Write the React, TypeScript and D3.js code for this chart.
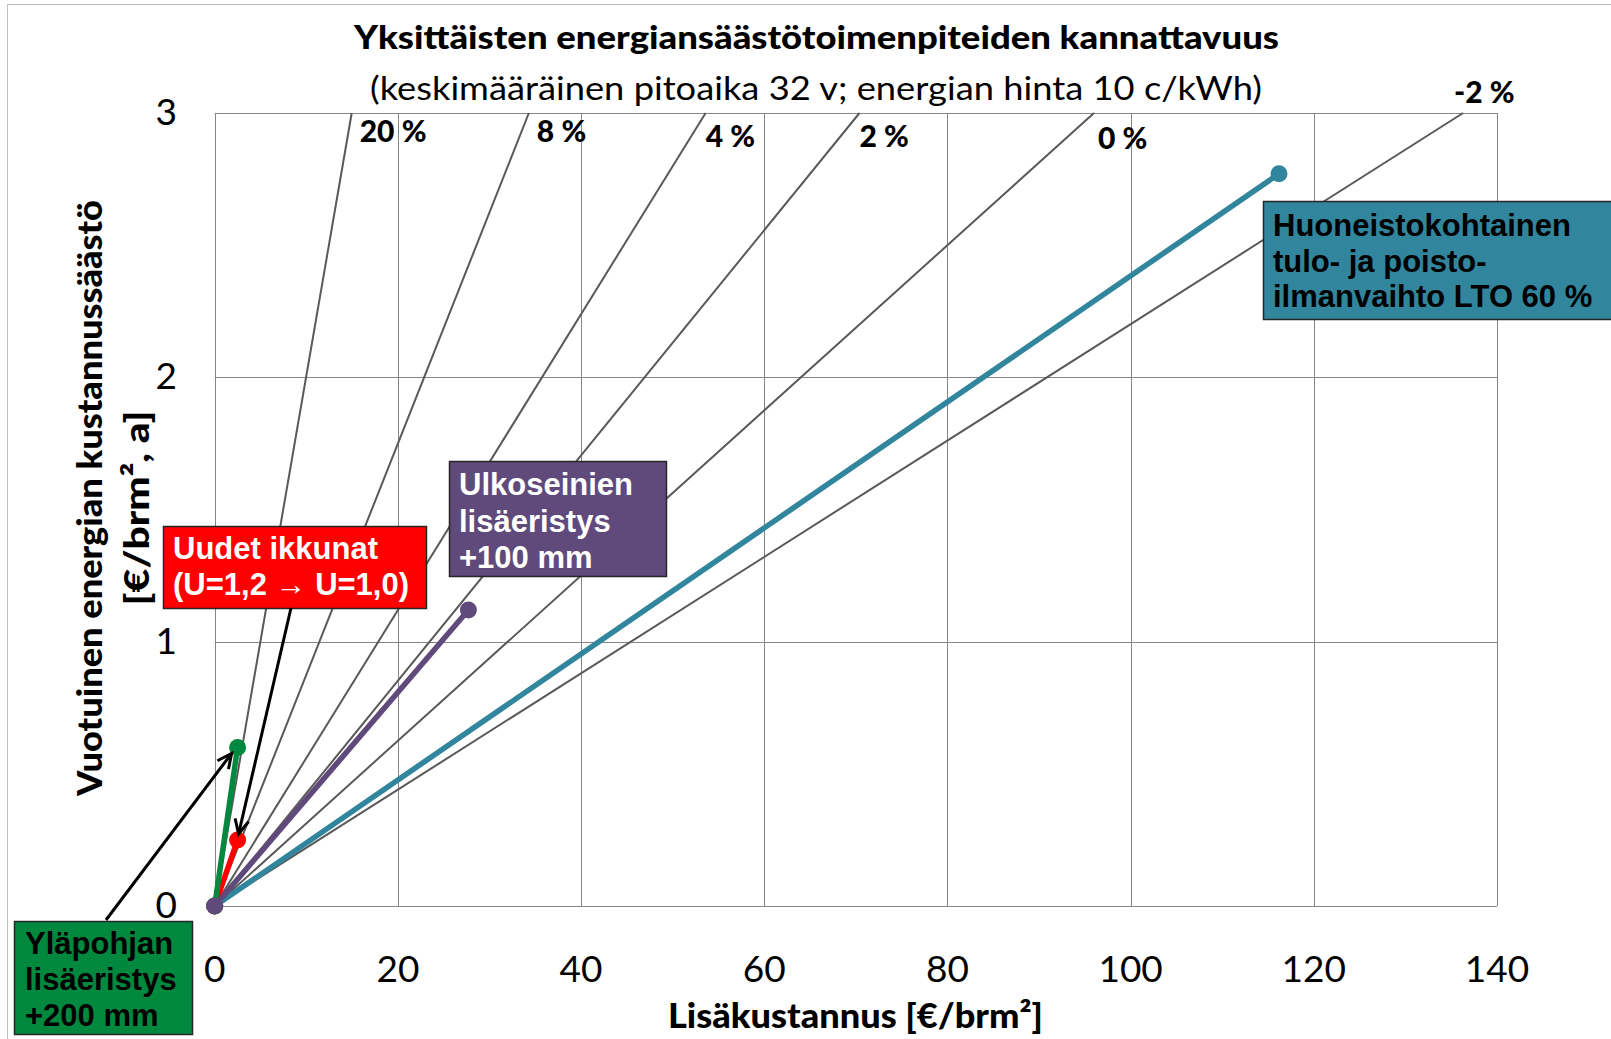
import React, { useEffect, useRef } from 'react';
import * as d3 from 'd3';

// profitability lines: interest rate label and the cost (€/brm²) where each line reaches 3 €/brm²,a
const rateLabels = ['20 %', '8 %', '4 %', '2 %', '0 %', '-2 %'];
const rateEndCost = [14.96, 34.3, 53.6, 70.4, 96.0, 136.3];
const rateEndSaving = [3, 3, 3, 3, 3, 3];

// measures: extra cost vs. yearly saving
const measureNames = ['Huoneistokohtainen ilmanvaihto', 'Uudet ikkunat', 'Yläpohjan lisäeristys', 'Ulkoseinien lisäeristys'];
const measureCost = [116.2, 2.5, 2.5, 27.7];
const measureSaving = [2.77, 0.25, 0.6, 1.12];
const measureColors = ['#31859c', '#ff0000', '#00893e', '#604a7b'];

const xTicks = [0, 20, 40, 60, 80, 100, 120, 140];
const yTicks = [0, 1, 2, 3];

const W = 1611;
const H = 1039;
const CAL = 'Lato, "Open Sans", sans-serif';
const ARIAL = '"Liberation Sans", Arial, sans-serif';

export default function App() {
  const ref = useRef<SVGSVGElement>(null);

  useEffect(() => {
    const svg = d3.select(ref.current);
    svg.selectAll('*').remove();

    const x = d3.scaleLinear().domain([0, 140]).range([214.7, 1497]);
    const y = d3.scaleLinear().domain([0, 3]).range([906, 113]);

    // outer chart border
    svg.append('rect')
      .attr('x', 7.5).attr('y', 4.5).attr('width', W).attr('height', H)
      .attr('fill', 'none').attr('stroke', '#bfbfbf').attr('stroke-width', 1);

    // titles
    svg.append('text')
      .attr('x', 354).attr('y', 49)
      .attr('textLength', 925).attr('lengthAdjust', 'spacingAndGlyphs')
      .style('font-family', CAL).style('font-weight', 900).style('font-size', '33px')
      .text('Yksittäisten energiansäästötoimenpiteiden kannattavuus');
    svg.append('text')
      .attr('x', 370).attr('y', 100)
      .attr('textLength', 892).attr('lengthAdjust', 'spacingAndGlyphs')
      .style('font-family', CAL).style('font-size', '32px')
      .text('(keskimääräinen pitoaika 32 v; energian hinta 10 c/kWh)');

    // grid
    const grid = svg.append('g').attr('stroke', '#868686').attr('stroke-width', 1);
    xTicks.forEach(t => {
      grid.append('line')
        .attr('x1', Math.round(x(t)) + 0.5).attr('x2', Math.round(x(t)) + 0.5)
        .attr('y1', y(0)).attr('y2', y(3));
    });
    yTicks.forEach(t => {
      grid.append('line')
        .attr('x1', x(0)).attr('x2', x(140))
        .attr('y1', Math.round(y(t)) + 0.5).attr('y2', Math.round(y(t)) + 0.5);
    });

    // tick labels
    svg.append('g').selectAll('text').data(yTicks).enter().append('text')
      .attr('x', 177).attr('y', d => y(d) + 12)
      .attr('text-anchor', 'end')
      .style('font-family', CAL).style('font-size', '37px')
      .text(d => d);
    svg.append('g').selectAll('text').data(xTicks).enter().append('text')
      .attr('x', d => x(d)).attr('y', 982)
      .attr('text-anchor', 'middle')
      .style('font-family', CAL).style('font-size', '37px')
      .text(d => d);

    // axis titles
    svg.append('text')
      .attr('x', 668).attr('y', 1028)
      .attr('textLength', 375).attr('lengthAdjust', 'spacingAndGlyphs')
      .style('font-family', CAL).style('font-weight', 900).style('font-size', '34px')
      .text('Lisäkustannus [€/brm²]');
    svg.append('text')
      .attr('transform', 'translate(102,498) rotate(-90)')
      .attr('text-anchor', 'middle')
      .attr('textLength', 596).attr('lengthAdjust', 'spacingAndGlyphs')
      .style('font-family', CAL).style('font-weight', 900).style('font-size', '34px')
      .text('Vuotuinen energian kustannussäästö');
    svg.append('text')
      .attr('transform', 'translate(149,508) rotate(-90)')
      .attr('text-anchor', 'middle')
      .attr('textLength', 195).attr('lengthAdjust', 'spacingAndGlyphs')
      .style('font-family', CAL).style('font-weight', 900).style('font-size', '34px')
      .text('[€/brm², a]');

    // profitability lines
    const labelOffsets = [[8, 29], [8, 29], [0, 34], [0, 34], [4, 36], [-9, -10]];
    rateLabels.forEach((lab, i) => {
      svg.append('line')
        .attr('x1', x(0)).attr('y1', y(0))
        .attr('x2', x(rateEndCost[i])).attr('y2', y(rateEndSaving[i]))
        .attr('stroke', '#595959').attr('stroke-width', 2);
      svg.append('text')
        .attr('x', x(rateEndCost[i]) + labelOffsets[i][0])
        .attr('y', y(rateEndSaving[i]) + labelOffsets[i][1])
        .style('font-family', CAL).style('font-weight', 900).style('font-size', '30px')
        .text(lab);
    });

    // measures
    measureNames.forEach((name, i) => {
      const g = svg.append('g').attr('class', 'measure');
      g.append('line')
        .attr('x1', x(0)).attr('y1', y(0))
        .attr('x2', x(measureCost[i])).attr('y2', y(measureSaving[i]))
        .attr('stroke', measureColors[i]).attr('stroke-width', 5.5);
      [[0, 0], [measureCost[i], measureSaving[i]]].forEach(p => {
        g.append('circle')
          .attr('cx', x(p[0])).attr('cy', y(p[1])).attr('r', 8.5)
          .attr('fill', measureColors[i]);
      });
    });

    // annotation boxes
    const box = (bx: number, by: number, bw: number, bh: number, fill: string, color: string, lines: string[], tx: number, ty: number, lh: number) => {
      svg.append('rect')
        .attr('x', bx + 0.5).attr('y', by + 0.5).attr('width', bw).attr('height', bh)
        .attr('fill', fill).attr('stroke', '#262626').attr('stroke-width', 1.5);
      lines.forEach((l, k) => {
        svg.append('text')
          .attr('x', tx).attr('y', ty + k * lh)
          .attr('fill', color)
          .style('font-family', ARIAL).style('font-weight', 700).style('font-size', '31px')
          .text(l);
      });
    };
    box(1263, 201, 400, 118, '#31859c', '#000', ['Huoneistokohtainen', 'tulo- ja poisto-', 'ilmanvaihto LTO 60 %'], 1273, 236, 35.5);
    box(449, 461, 217, 115, '#604a7b', '#fff', ['Ulkoseinien', 'lisäeristys', '+100 mm'], 459, 495, 36.5);
    box(163, 526, 263, 82, '#ff0000', '#fff', ['Uudet ikkunat', '(U=1,2 → U=1,0)'], 173, 559, 36);
    box(14, 921, 178, 113, '#00893e', '#000', ['Yläpohjan', 'lisäeristys', '+200 mm'], 25, 954, 36);

    // arrows
    const arrow = (x1: number, y1: number, x2: number, y2: number) => {
      svg.append('line')
        .attr('x1', x1).attr('y1', y1).attr('x2', x2).attr('y2', y2)
        .attr('stroke', '#000').attr('stroke-width', 3);
      const a = Math.atan2(y2 - y1, x2 - x1);
      const len = 16;
      const spread = 0.45;
      const path = d3.path();
      path.moveTo(x2 - len * Math.cos(a - spread), y2 - len * Math.sin(a - spread));
      path.lineTo(x2, y2);
      path.lineTo(x2 - len * Math.cos(a + spread), y2 - len * Math.sin(a + spread));
      svg.append('path').attr('d', path.toString())
        .attr('fill', 'none').attr('stroke', '#000').attr('stroke-width', 3);
    };
    arrow(106, 920, x(measureCost[2]) - 6, y(measureSaving[2]) + 6);
    arrow(291, 608, x(measureCost[1]) + 1, y(measureSaving[1]) - 6);
  }, []);

  return (
    <div style={{ position: 'absolute', left: 0, top: 0 }}>
      <svg ref={ref} width={W} height={H} style={{ display: 'block', background: '#fff' }} />
    </div>
  );
}
